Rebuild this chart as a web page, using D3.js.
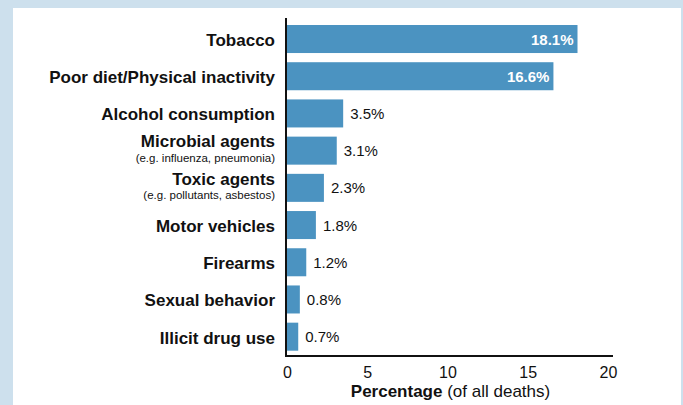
<!DOCTYPE html>
<html><head><meta charset="utf-8">
<script src="https://cdn.jsdelivr.net/npm/d3@7"></script>
<style>
html,body{margin:0;padding:0;background:#cde0ed;}
svg{display:block;}
text{font-family:"Liberation Sans",Arial,Helvetica,sans-serif;}
</style></head>
<body>
<svg id="chart" width="683" height="405"></svg>
<script>
const categories = ["Tobacco","Poor diet/Physical inactivity","Alcohol consumption","Microbial agents","Toxic agents","Motor vehicles","Firearms","Sexual behavior","Illicit drug use"];
const subtitles = ["","","","(e.g. influenza, pneumonia)","(e.g. pollutants, asbestos)","","","",""];
const values = [18.1,16.6,3.5,3.1,2.3,1.8,1.2,0.8,0.7];
const valueLabels = ["18.1%","16.6%","3.5%","3.1%","2.3%","1.8%","1.2%","0.8%","0.7%"];
const xTicks = [0,5,10,15,20];

const svg = d3.select("#chart");
svg.append("rect").attr("x",13).attr("y",8).attr("width",668).attr("height",397).attr("fill","#fff");

const x = d3.scaleLinear().domain([0,20]).range([287,608]);
const y = d3.scaleBand().domain(categories).range([20.4,355.3]).paddingInner(0.247).paddingOuter(0.124);
const data = categories.map((c,i)=>({c, sub:subtitles[i], v:values[i], lab:valueLabels[i]}));

svg.selectAll("rect.bar").data(data).enter().append("rect")
  .attr("class","bar")
  .attr("x",x(0)).attr("y",d=>y(d.c))
  .attr("width",d=>x(d.v)-x(0)).attr("height",y.bandwidth())
  .attr("fill","#4b93c1");

// value labels
svg.selectAll("text.val").data(data).enter().append("text")
  .attr("class","val")
  .attr("x",d=> d.v>10 ? x(d.v)-4 : x(d.v)+7)
  .attr("y",d=>y(d.c)+y.bandwidth()/2 + 5.5)
  .attr("text-anchor",d=> d.v>10 ? "end":"start")
  .attr("fill",d=> d.v>10 ? "#fff":"#111")
  .attr("font-weight",d=> d.v>10 ? "bold":"normal")
  .attr("font-size","15px")
  .text(d=>d.lab);

// category labels
const lab = svg.selectAll("g.lab").data(data).enter().append("g").attr("class","lab");
lab.append("text")
  .attr("x",275)
  .attr("y",d=>y(d.c)+y.bandwidth()/2 + (d.sub? -3.3 : 7))
  .attr("text-anchor","end")
  .attr("font-weight","bold").attr("font-size","17px").attr("fill","#111")
  .text(d=>d.c);
lab.filter(d=>d.sub).append("text")
  .attr("x",275)
  .attr("y",d=>y(d.c)+y.bandwidth()/2 + 11.2)
  .attr("text-anchor","end")
  .attr("font-size","11.5px").attr("fill","#111")
  .text(d=>d.sub);

// axes lines
svg.append("line").attr("x1",286).attr("x2",286).attr("y1",18).attr("y2",357)
  .attr("stroke","#111").attr("stroke-width",2);
svg.append("line").attr("x1",285).attr("x2",613).attr("y1",356).attr("y2",356)
  .attr("stroke","#111").attr("stroke-width",2);

const xAxis = d3.axisBottom(x).tickValues(xTicks).tickSize(0).tickPadding(0).tickFormat(d3.format("d"));
const gx = svg.append("g").attr("transform","translate(0,378)").call(xAxis);
gx.select(".domain").remove();
gx.selectAll("text").attr("dy",null).attr("y",0).attr("font-size","16px").attr("fill","#111").attr("font-family","Liberation Sans, Arial, sans-serif");

const title = svg.append("text").attr("x",x(10)+3).attr("y",397).attr("text-anchor","middle")
  .attr("font-size","17px").attr("fill","#111");
title.append("tspan").attr("font-weight","bold").text("Percentage");
title.append("tspan").text(" (of all deaths)");
</script>
</body></html>
